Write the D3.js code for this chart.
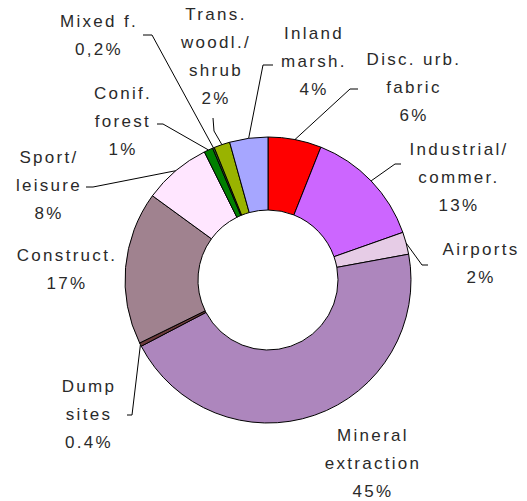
<!DOCTYPE html>
<html>
<head>
<meta charset="utf-8">
<script src="https://cdn.jsdelivr.net/npm/d3@7"></script>
<style>
  body { margin: 0; background: #fff; }
  text { font-family: "Liberation Sans", Arial, sans-serif; font-size: 17px; letter-spacing: 2.3px; fill: #2a2a2a; }
</style>
</head>
<body>
<script>
// land cover categories, clockwise from 12 o'clock
var categories = ['Disc. urb. fabric', 'Industrial/commer.', 'Airports', 'Mineral extraction', 'Dump sites',
  'Construct.', 'Sport/leisure', 'Conif. forest', 'Mixed f.', 'Trans. woodl./shrub', 'Inland marsh.'];
var values = [6, 13.5, 2.5, 45, 0.4, 17.2, 7.6, 1, 0.2, 1.8, 4.3];
var labelLines = [
  ['Disc. urb.', 'fabric', '6%'],
  ['Industrial/', 'commer.', '13%'],
  ['Airports', '2%'],
  ['Mineral', 'extraction', '45%'],
  ['Dump', 'sites', '0.4%'],
  ['Construct.', '17%'],
  ['Sport/', 'leisure', '8%'],
  ['Conif.', 'forest', '1%'],
  ['Mixed f.', '0,2%'],
  ['Trans.', 'woodl./', 'shrub', '2%'],
  ['Inland', 'marsh.', '4%']
];
var colors = ['#ff0000', '#cc66ff', '#e6cce6', '#ad86bd', '#6b3a3a', '#a0828f',
  '#ffe6ff', '#007f00', '#2f5f2f', '#99b300', '#a6a6ff'];

// layout: label anchor (centre x, first baseline) and leader start/elbow
var labelPos = [[414, 65], [459, 155], [481, 255], [373, 441], [89, 392], [67, 261],
  [49, 163], [123, 99], [99, 27], [216, 20], [314, 39]];
var leaders = [
  [[358, 89], [350, 89]],
  [[401, 164], [395, 164]],
  [[428, 265], [422, 265]],
  null,
  [[127, 415], [132, 415]],
  null,
  [[86, 187], [93, 187]],
  [[157, 124], [163, 124]],
  [[143, 35], [152, 35]],
  [[213, 118], [214, 131]],
  [[273, 65], [263, 65]]
];

var width = 527, height = 501;
var cx = 268, cy = 280, outerR = 143, innerR = 70;

var svg = d3.select('body').append('svg').attr('width', width).attr('height', height);
var g = svg.append('g').attr('transform', 'translate(' + cx + ',' + cy + ')');

var pie = d3.pie().sort(null).value(function (d) { return d; });
var arcs = pie(values);

var arc = d3.arc().innerRadius(innerR).outerRadius(outerR);
var rim = d3.arc().innerRadius(outerR).outerRadius(outerR);

g.selectAll('path.slice').data(arcs).enter().append('path')
  .attr('class', 'slice')
  .attr('d', arc)
  .attr('fill', function (d, i) { return colors[i]; })
  .attr('stroke', '#000')
  .attr('stroke-width', 1)
  .attr('stroke-linejoin', 'round');

// leader lines from label to the slice's outer edge
var line = d3.line();
arcs.forEach(function (d, i) {
  if (!leaders[i]) return;
  var c = rim.centroid(d);
  var pts = [leaders[i][0], leaders[i][1], [cx + c[0], cy + c[1]]];
  svg.append('path').attr('d', line(pts))
    .attr('fill', 'none').attr('stroke', '#000').attr('stroke-width', 1);
});

// labels
labelLines.forEach(function (lines, i) {
  var t = svg.append('text').attr('text-anchor', 'middle');
  lines.forEach(function (s, j) {
    t.append('tspan').attr('x', labelPos[i][0]).attr('y', labelPos[i][1] + j * 28).text(s);
  });
});
</script>
</body>
</html>
